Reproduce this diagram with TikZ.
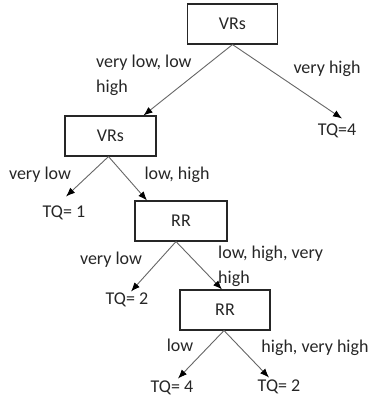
\documentclass[tikz,border=0pt]{standalone}
\usepackage{fontspec}
\setmainfont{Carlito}
\usetikzlibrary{arrows.meta}
\begin{document}
\begin{tikzpicture}[x=1pt,y=-1pt,
  every node/.style={font=\fontsize{18}{25}\selectfont, text=black!85, inner sep=0pt},
  box/.style={draw=black!85, line width=1.1pt, minimum width=90pt, minimum height=40pt},
  lbl/.style={text height=1.5ex, text depth=.3ex},
  arr/.style={draw=black!60, line width=0.9pt, -{Latex[length=9pt,width=7pt,black]}}]
\useasboundingbox (0,0) rectangle (372,401);
% boxes
\node[box] (v1) at (232.5,24) {VRs};
\node[box, minimum width=91pt] (v2) at (110.5,136) {VRs};
\node[box, minimum width=92pt] (r1) at (181,221) {RR};
\node[box] (r2) at (225,310) {RR};
% leaves
\node[lbl] (tq4a) at (337,133) {TQ=4};
\node[lbl] (tq1) at (64,215) {TQ= 1};
\node[lbl] (tq2a) at (127,302) {TQ= 2};
\node[lbl] (tq4b) at (172,390) {TQ= 4};
\node[lbl] (tq2b) at (279,389) {TQ= 2};
% edge labels
\node[anchor=west, align=left] (l1) at (96,75) {very low, low\\high};
\node[lbl] (l2) at (327,71) {very high};
\node[lbl] (l3) at (40,177) {very low};
\node[lbl] (l4) at (177,177) {low, high};
\node[lbl] (l5) at (111,262) {very low};
\node[anchor=west, align=left] (l6) at (218,266) {low, high, very\\high};
\node[lbl] (l7) at (180,349) {low};
\node[lbl] (l8) at (315,350) {high, very high};
% connectors
\draw[arr] (v1.south) -- ([xshift=33pt]v2.north);
\draw[arr] (v1.south) -- ([xshift=5pt,yshift=10pt]tq4a.north);
\draw[arr] ([xshift=-2pt]v2.south) -- ([xshift=2pt,yshift=14pt]tq1.north);
\draw[arr] ([xshift=-2pt]v2.south) -- ([xshift=-34pt]r1.north);
\draw[arr] ([xshift=-5pt]r1.south) -- ([xshift=4pt,yshift=6pt]tq2a.north);
\draw[arr] ([xshift=-5pt]r1.south) -- ([xshift=-3pt]r2.north);
\draw[arr] ([xshift=-1pt]r2.south) -- ([xshift=6pt,yshift=7pt]tq4b.north);
\draw[arr] ([xshift=-1pt]r2.south) -- ([xshift=-10pt,yshift=7pt]tq2b.north);
\end{tikzpicture}
\end{document}
